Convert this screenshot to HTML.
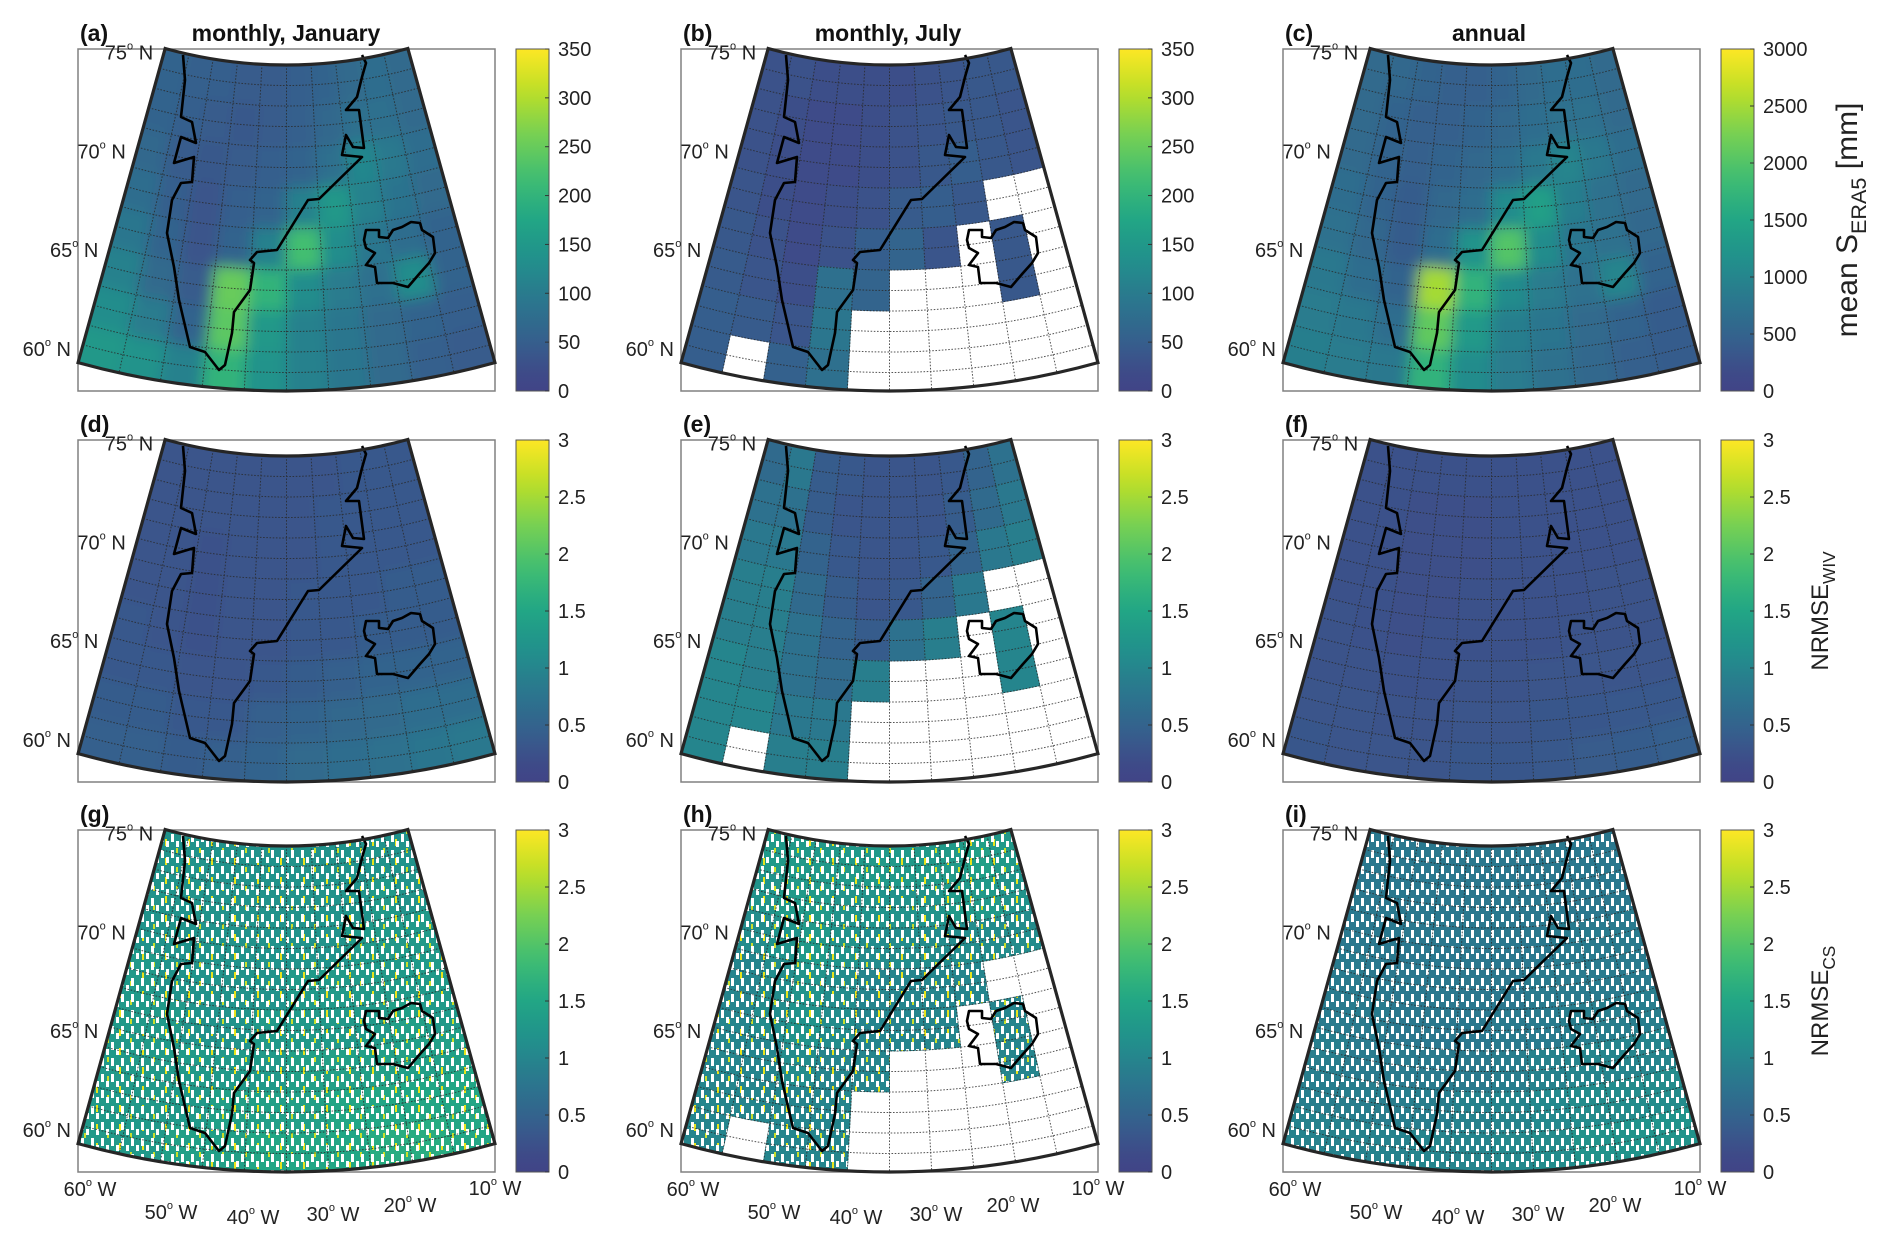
<!DOCTYPE html>
<html><head><meta charset="utf-8">
<style>
html,body{margin:0;padding:0;background:#fff;}
svg{display:block;font-family:"Liberation Sans",Arial,sans-serif;}
</style></head>
<body>
<svg id="fig" width="1892" height="1247" viewBox="0 0 1892 1247" xmlns="http://www.w3.org/2000/svg">
<defs>
<pattern id="speck" patternUnits="userSpaceOnUse" width="10" height="16">
<rect x="1" y="2" width="3" height="8" fill="#fff"/>
<rect x="6" y="9" width="3" height="6" fill="#fff"/>
</pattern>
<pattern id="speckY" patternUnits="userSpaceOnUse" width="23" height="19">
<rect x="4" y="3" width="2" height="7" fill="#e8e41c"/>
<rect x="15" y="12" width="2" height="5" fill="#c9df2c"/>
</pattern>
<filter id="smooth" x="-5%" y="-5%" width="110%" height="110%"><feGaussianBlur stdDeviation="7"/></filter>
</defs>
<g id="layer"></g>
</svg>
<script>
// ---------- data ----------
const latBandTops = [75, 73, 71, 69, 67, 65, 63, 61];
const lonBandWest = [-60, -55, -50, -45, -40, -35, -30, -25, -20, -15];
const precipTicks = [0, 50, 100, 150, 200, 250, 300, 350];
const annualTicks = [0, 500, 1000, 1500, 2000, 2500, 3000];
const nrmseTicks = [0, 0.5, 1, 1.5, 2, 2.5, 3];
const latLabels = [75, 70, 65, 60];
const lonLabels = [60, 50, 40, 30, 20, 10];

const janPrecip = [
[60,55,50,45,45,50,60,70,75,70],
[60,50,45,40,45,55,65,80,80,70],
[65,45,40,45,50,60,80,120,95,75],
[75,50,35,50,60,110,150,110,85,70],
[90,60,35,60,110,220,130,90,75,60],
[110,70,45,250,200,130,100,80,130,60],
[130,100,60,240,150,110,90,70,60,50],
[150,140,110,200,140,110,90,70,55,45]];
const julPrecip = [
[30,30,25,25,25,25,30,35,40,40],
[30,25,20,20,25,30,35,40,40,35],
[30,25,20,20,25,30,40,50,40,35],
[35,25,20,25,30,45,50,40,null,null],
[40,30,20,30,50,60,35,null,40,null],
[45,35,25,80,60,null,null,null,40,null],
[50,45,35,90,null,null,null,null,null,null],
[50,null,55,80,null,null,null,null,null,null]];
const annPrecip = [
[600,550,500,450,450,500,600,650,650,600],
[600,500,450,450,500,550,650,700,700,600],
[600,500,450,500,550,650,800,1000,800,650],
[650,500,400,550,650,1100,1400,900,700,600],
[700,550,400,650,1200,2000,1100,750,700,550],
[800,650,500,2500,1700,1100,850,700,1000,500],
[850,800,650,2100,1300,900,750,600,500,400],
[900,850,800,1700,1100,850,700,550,450,400]];
const janWiv = [
[.3,.3,.3,.3,.3,.3,.3,.35,.35,.35],
[.3,.3,.3,.3,.3,.3,.35,.35,.35,.35],
[.3,.3,.25,.3,.3,.3,.35,.35,.35,.35],
[.3,.3,.25,.3,.3,.35,.35,.35,.4,.4],
[.35,.3,.25,.3,.3,.35,.35,.4,.4,.4],
[.35,.35,.3,.3,.35,.4,.45,.5,.5,.5],
[.4,.4,.35,.35,.45,.5,.55,.6,.65,.65],
[.45,.45,.4,.45,.5,.6,.65,.7,.75,.8]];
const julWiv = [
[.6,.8,.4,.35,.3,.3,.3,.35,.5,.7],
[.7,.7,.4,.3,.3,.3,.3,.4,.6,.8],
[.8,.8,.5,.35,.3,.3,.35,.5,.8,.9],
[.9,.9,.6,.4,.3,.35,.5,.8,null,null],
[.9,.9,.7,.5,.4,.7,.9,null,1.0,null],
[1.0,.9,.7,.6,.9,null,null,null,1.0,null],
[1.0,1.0,.8,.8,null,null,null,null,null,null],
[1.0,null,.9,.9,null,null,null,null,null,null]];
const annWiv = [
[.25,.25,.25,.25,.25,.25,.25,.25,.25,.25],
[.25,.25,.22,.22,.22,.25,.25,.25,.25,.25],
[.25,.25,.22,.22,.22,.25,.25,.25,.25,.25],
[.25,.25,.22,.22,.25,.25,.25,.25,.28,.28],
[.28,.25,.22,.25,.25,.25,.25,.28,.28,.28],
[.28,.28,.25,.25,.28,.28,.3,.3,.3,.3],
[.3,.3,.28,.28,.3,.3,.32,.33,.35,.35],
[.32,.3,.3,.3,.32,.33,.35,.38,.4,.42]];
const janCs = [
[1.2,1.2,1.2,1.2,1.2,1.2,1.2,1.2,1.2,1.2],
[1.2,1.2,1.2,1.2,1.2,1.2,1.2,1.2,1.3,1.2],
[1.2,1.2,1.2,1.2,1.2,1.2,1.2,1.3,1.3,1.3],
[1.3,1.2,1.2,1.2,1.2,1.3,1.3,1.3,1.3,1.3],
[1.3,1.3,1.2,1.2,1.3,1.3,1.3,1.3,1.4,1.3],
[1.3,1.3,1.3,1.3,1.3,1.4,1.4,1.4,1.4,1.4],
[1.3,1.3,1.3,1.4,1.4,1.4,1.5,1.5,1.5,1.5],
[1.3,1.3,1.4,1.4,1.5,1.5,1.5,1.6,1.6,1.5]];
const julCs = [
[1.3,1.3,1.3,1.3,1.3,1.3,1.3,1.3,1.4,1.3],
[1.2,1.3,1.3,1.2,1.2,1.2,1.2,1.3,1.3,1.2],
[1.1,1.2,1.3,1.2,1.1,1.1,1.1,1.1,1.1,1.1],
[1.0,1.1,1.2,1.1,1.0,1.0,1.0,1.0,null,null],
[1.0,1.1,1.2,1.1,1.0,1.0,1.0,null,1.0,null],
[1.0,1.0,1.1,1.0,1.0,null,null,null,1.0,null],
[1.0,1.0,1.0,1.0,null,null,null,null,null,null],
[1.0,null,1.0,1.0,null,null,null,null,null,null]];
const annCs = [
[0.8,0.8,0.8,0.8,0.8,0.8,0.8,0.8,0.8,0.8],
[0.8,0.8,0.8,0.8,0.8,0.8,0.8,0.8,0.8,0.8],
[0.8,0.8,0.8,0.8,0.8,0.8,0.8,0.85,0.85,0.85],
[0.85,0.8,0.8,0.8,0.8,0.8,0.85,0.85,0.85,0.85],
[0.85,0.85,0.8,0.8,0.8,0.85,0.85,0.9,0.9,0.9],
[0.9,0.85,0.85,0.85,0.85,0.9,0.95,1.0,1.0,1.0],
[0.9,0.9,0.9,0.9,0.95,1.0,1.05,1.1,1.1,1.1],
[0.95,0.95,0.95,1.0,1.0,1.05,1.1,1.2,1.2,1.2]];

// ---------- geometry / styles ----------
const colX = [78, 681, 1283];
const rowY = [49, 440, 830];
const BOX_W = 417, BOX_H = 342;
const APEX_X = 208.5, APEX_Y = -438, R75 = 454, PX_PER_LAT = 20.5, CONE = 0.62;
const LAT_BOTTOM = 75 - (780 - R75) / PX_PER_LAT;

const greenland = [[105,6],[107,31],[103,68],[114,73],[118,94],[103,88],[96,114],[116,108],[114,133],[103,134],[94,151],[89,184],[96,218],[101,251],[112,298],[127,303],[141,321],[147,316],[154,284],[156,263],[172,241],[176,214],[172,211],[179,203],[199,201],[230,151],[241,150],[284,108],[264,106],[268,86],[275,98],[286,99],[281,61],[268,61],[279,48],[284,28],[288,14],[284,6]];
const iceland = [[288,181],[301,181],[301,188],[310,189],[315,181],[324,178],[333,173],[342,174],[344,181],[355,188],[357,204],[351,214],[342,224],[330,238],[315,234],[299,234],[297,218],[288,216],[297,204],[288,199],[286,191]];

const NS = "http://www.w3.org/2000/svg";
const layer = document.getElementById('layer');
function mk(tag, attrs, parent) {
  const e = document.createElementNS(NS, tag);
  for (const k in attrs) e.setAttribute(k, attrs[k]);
  (parent || layer).appendChild(e);
  return e;
}
const VIR = [[0.2,'#414487'],[0.3,'#355f8d'],[0.4,'#2a788e'],[0.5,'#21918c'],[0.6,'#22a884'],[0.7,'#44bf70'],[0.8,'#7ad151'],[0.9,'#bddf26'],[1.0,'#fde725']];
function hex(h){return [parseInt(h.substr(1,2),16),parseInt(h.substr(3,2),16),parseInt(h.substr(5,2),16)];}
function viridis(t) {
  t = Math.max(0, Math.min(1, t));
  const u = 0.18 + 0.82 * t;
  let i = 0;
  while (i < VIR.length - 2 && u > VIR[i+1][0]) i++;
  const a = VIR[i], b = VIR[i+1];
  const f = Math.max(0, Math.min(1, (u - a[0]) / (b[0] - a[0])));
  const ca = hex(a[1]), cb = hex(b[1]);
  return 'rgb(' + ca.map((c, k) => Math.round(c + (cb[k] - c) * f)).join(',') + ')';
}
function proj(ox, oy, lat, lon) {
  const r = R75 + PX_PER_LAT * (75 - lat);
  const a = (lon + 35) * CONE * Math.PI / 180;
  return [ox + APEX_X + r * Math.sin(a), oy + APEX_Y + r * Math.cos(a)];
}
function rad(lat){return R75 + PX_PER_LAT * (75 - lat);}
function sector(ox, oy, latN, latS, lonW, lonE) {
  const a = proj(ox,oy,latN,lonW), b = proj(ox,oy,latN,lonE), c = proj(ox,oy,latS,lonE), d = proj(ox,oy,latS,lonW);
  const rN = rad(latN), rS = rad(latS);
  return `M${a[0]},${a[1]} A${rN},${rN} 0 0 0 ${b[0]},${b[1]} L${c[0]},${c[1]} A${rS},${rS} 0 0 1 ${d[0]},${d[1]} Z`;
}

const panels = [
 {id:'a', data:janPrecip, vmax:350, r:0, c:0, speck:false, smooth:true},
 {id:'b', data:julPrecip, vmax:350, r:0, c:1, speck:false, smooth:false},
 {id:'c', data:annPrecip, vmax:3000, r:0, c:2, speck:false, smooth:true},
 {id:'d', data:janWiv, vmax:3, r:1, c:0, speck:false, smooth:true},
 {id:'e', data:julWiv, vmax:3, r:1, c:1, speck:false, smooth:false},
 {id:'f', data:annWiv, vmax:3, r:1, c:2, speck:false, smooth:true},
 {id:'g', data:janCs, vmax:3, r:2, c:0, speck:true, yellow:true, smooth:false},
 {id:'h', data:julCs, vmax:3, r:2, c:1, speck:true, yellow:true, smooth:false},
 {id:'i', data:annCs, vmax:3, r:2, c:2, speck:true, yellow:false, smooth:false}
];
const titles = ['monthly, January', 'monthly, July', 'annual'];
const titleCx = [286, 888, 1489];

const defs = document.querySelector('defs');
const grad = mk('linearGradient', {id:'vgrad', x1:0, y1:1, x2:0, y2:0}, defs);
for (let k = 0; k <= 20; k++) mk('stop', {offset: k/20, 'stop-color': viridis(k/20)}, grad);

panels.forEach(p => {
  const ox = colX[p.c], oy = rowY[p.r];
  const g = mk('g', {});
  
  
  const clipId = 'clip' + p.id;
  const cp = mk('clipPath', {id: clipId}, defs);
  mk('path', {d: sector(ox, oy, 75, LAT_BOTTOM, -60, -10)}, cp);
  const cellClip = mk('clipPath', {id: 'cells' + p.id}, defs);

  const box = mk('rect', {x:ox, y:oy, width:BOX_W, height:BOX_H, fill:'#fff', stroke:'#808080', 'stroke-width':1.5}, g);
  
  

  const outer = mk('g', {'clip-path': `url(#${clipId})`}, g);
  const cells = mk('g', p.smooth ? {filter:'url(#smooth)'} : {}, outer);
  
  
  const nR = p.data.length;
  p.data.forEach((row, i) => {
    row.forEach((v, j) => {
      if (v === null) return;
      let latN = latBandTops[i], latS = latBandTops[i] - 2;
      let lonW = lonBandWest[j], lonE = lonBandWest[j] + 5;
      if (i === nR - 1) latS -= p.smooth ? 3 : 1;
      if (p.smooth) {
        if (i === 0) latN += 3;
        if (j === 0) lonW -= 6;
        if (j === row.length - 1) lonE += 6;
      }
      const col = viridis(v / p.vmax);
      const d = sector(ox, oy, latN, latS, lonW, lonE);
      const cell = mk('path', {d: d, fill: col, stroke: col, 'stroke-width': 0.8}, cells);
      
      
      mk('path', {d: d}, cellClip);
    });
  });
  if (p.speck) {
    const sg = mk('g', {'clip-path': `url(#cells${p.id})`}, outer);
    if (p.yellow) mk('rect', {x:ox, y:oy, width:BOX_W, height:BOX_H, fill:'url(#speckY)'}, sg);
    const sp = mk('rect', {x:ox, y:oy, width:BOX_W, height:BOX_H, fill:'url(#speck)'}, sg);
    
    
  }

  const grid = mk('g', {'clip-path': `url(#${clipId})`, stroke:'#2a2a2a', 'stroke-width':1, 'stroke-dasharray':'1.6,1.6', fill:'none', opacity:0.8}, g);
  
  
  for (let lon = -55; lon <= -15; lon += 5) {
    const a = proj(ox,oy,75,lon), b = proj(ox,oy,LAT_BOTTOM,lon);
    mk('line', {x1:a[0], y1:a[1], x2:b[0], y2:b[1]}, grid);
  }
  for (let lat = 60; lat <= 74; lat++) {
    const a = proj(ox,oy,lat,-60), b = proj(ox,oy,lat,-10), r = rad(lat);
    mk('path', {d:`M${a[0]},${a[1]} A${r},${r} 0 0 0 ${b[0]},${b[1]}`}, grid);
  }

  const cg = mk('g', {fill:'none', stroke:'#000', 'stroke-width':2.6, 'stroke-linejoin':'round'}, g);
  
  
  mk('polyline', {points: greenland.map(q => (ox+q[0])+','+(oy+q[1])).join(' ')}, cg);
  mk('polygon', {points: iceland.map(q => (ox+q[0])+','+(oy+q[1])).join(' ')}, cg);

  const fr = mk('path', {d: sector(ox, oy, 75, LAT_BOTTOM, -60, -10), fill:'none', stroke:'#262626', 'stroke-width':3.2}, g);
  
  

  latLabels.forEach(lat => {
    const q = proj(ox, oy, lat, -60);
    const t = mk('text', {x: q[0]-12, y: q[1]+11, 'text-anchor':'end', 'font-size':20, fill:'#222'}, g);
    
    
    t.innerHTML = lat + '<tspan dy="-10" font-size="11">o</tspan><tspan dy="10"> N</tspan>';
  });

  const pl = mk('text', {x: ox+2, y: oy-8, 'font-size':23, 'font-weight':'bold', fill:'#111'}, g);
  
  
  pl.textContent = '(' + p.id + ')';
  if (p.r === 0) {
    const tt = mk('text', {x: titleCx[p.c], y: oy-8, 'font-size':23, 'font-weight':'bold', 'text-anchor':'middle', fill:'#111'}, g);
    
    
    tt.textContent = titles[p.c];
  }

  const cbx = ox + 438, cbw = 33;
  const cb = mk('rect', {x:cbx, y:oy, width:cbw, height:BOX_H, fill:'url(#vgrad)', stroke:'#555', 'stroke-width':1}, g);
  
  
  const ticks = p.vmax === 350 ? precipTicks : (p.vmax === 3000 ? annualTicks : nrmseTicks);
  ticks.forEach(v => {
    const y = oy + BOX_H * (1 - v / p.vmax);
    mk('line', {x1:cbx+cbw-4, x2:cbx+cbw, y1:y, y2:y, stroke:'#333', 'stroke-width':1}, g);
    const tl = mk('text', {x: cbx+cbw+9, y: y+7, 'font-size':20, fill:'#222'}, g);
    
    
    tl.textContent = String(v);
  });

  if (p.r === 2) {
    const offs = [[12,24],[93,47],[175,52],[255,49],[332,40],[417,23]];
    lonLabels.forEach((lon, k) => {
      const t = mk('text', {x: ox+offs[k][0], y: oy+BOX_H+offs[k][1], 'text-anchor':'middle', 'font-size':20, fill:'#222'}, g);
      
      
      t.innerHTML = lon + '<tspan dy="-10" font-size="11">o</tspan><tspan dy="10"> W</tspan>';
    });
  }
});

function cbTitle(cx, cy, size, main, sub, tail, name) {
  const t = mk('text', {x:cx, y:cy, 'font-size':size, 'text-anchor':'middle', fill:'#222', transform:`rotate(-90 ${cx} ${cy})`});
  
  
  t.innerHTML = main + `<tspan dy="${size*0.3}" font-size="${size*0.72}">${sub}</tspan>` + (tail ? `<tspan dy="${-size*0.3}">${tail}</tspan>` : '');
}
cbTitle(1857, 220, 30, 'mean S', 'ERA5', ' [mm]', 'colorbar-title-precip');
cbTitle(1828, 611, 24, 'NRMSE', 'WIV', '', 'colorbar-title-wiv');
cbTitle(1828, 1001, 24, 'NRMSE', 'CS', '', 'colorbar-title-cs');
</script>
</body></html>
